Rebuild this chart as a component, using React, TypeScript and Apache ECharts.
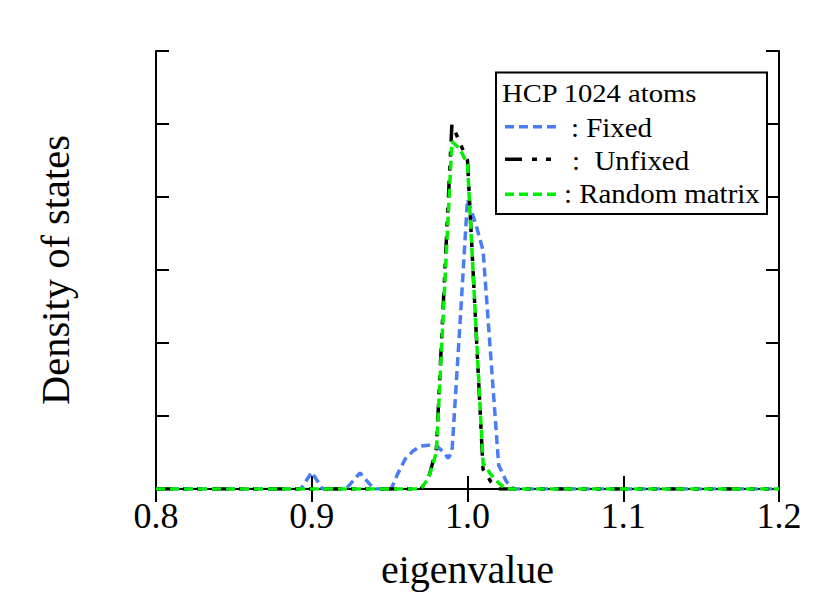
import React, { useEffect, useRef } from "react";
import * as echarts from "echarts";

// Data
const fixedX = [0.8, 0.893, 0.9, 0.907, 0.922, 0.931, 0.94, 0.951, 0.955, 0.96, 0.965, 0.97, 0.975, 0.98, 0.985, 0.9875, 0.99, 0.995, 1.0, 1.005, 1.01, 1.015, 1.02, 1.025, 1.03, 1.2];
const fixedY = [0, 0, 0.23, 0, 0, 0.22, 0, 0, 0.2, 0.41, 0.52, 0.59, 0.6, 0.59, 0.5, 0.42, 0.5, 2.2, 3.97, 3.65, 3.27, 1.8, 0.33, 0.1, 0, 0];

const unfixedX = [0.8, 0.97, 0.975, 0.98, 0.99, 0.995, 1.0, 1.01, 1.015, 1.02, 1.2];
const unfixedY = [0, 0, 0.15, 0.55, 5.0, 4.75, 4.5, 0.27, 0.1, 0, 0];

const randomX = [0.8, 0.97, 0.975, 0.98, 0.99, 0.995, 1.0, 1.01, 1.015, 1.02, 1.025, 1.2];
const randomY = [0, 0, 0.15, 0.5, 4.76, 4.66, 4.45, 0.35, 0.2, 0.08, 0, 0];

const xTicks = [0.8, 0.9, 1.0, 1.1, 1.2];
const legendTitle = "HCP 1024 atoms";
const seriesNames = [": Fixed", ":  Unfixed", ": Random matrix"];

const FONT = "'Liberation Serif', 'Times New Roman', serif";
const BLUE = "#4a7cf5";
const GREEN = "#00f000";

const pairs = (xs: number[], ys: number[]) => xs.map((x, i) => [x, ys[i]]);

export default function App() {
  const ref = useRef<HTMLDivElement>(null);
  useEffect(() => {
    if (!ref.current) return;
    const chart = echarts.init(ref.current, undefined, { renderer: "svg" });
    const axisLine = { lineStyle: { color: "#000", width: 2 } };
    const tick = { inside: true, length: 13, lineStyle: { color: "#000", width: 2 } };
    chart.setOption({
      animation: false,
      backgroundColor: "#fff",
      grid: {
        left: 156,
        right: 51,
        top: 51,
        bottom: 103,
        containLabel: false,
        outerBoundsMode: "none",
      },
      xAxis: [
        {
          type: "value",
          min: xTicks[0],
          max: xTicks[xTicks.length - 1],
          interval: 0.1,
          position: "bottom",
          axisLine,
          axisTick: tick,
          splitLine: { show: false },
          axisLabel: {
            formatter: (v: number) => v.toFixed(1),
            fontSize: 36,
            color: "#000",
            fontFamily: FONT,
            margin: 9,
          },
          name: "eigenvalue",
          nameLocation: "middle",
          nameGap: 60,
          nameTextStyle: { fontSize: 40, color: "#000", fontFamily: FONT },
        },
        {
          type: "value",
          min: xTicks[0],
          max: xTicks[xTicks.length - 1],
          interval: 0.1,
          position: "top",
          axisLine,
          axisTick: tick,
          splitLine: { show: false },
          axisLabel: { show: false },
        },
      ],
      yAxis: [
        {
          type: "value",
          min: 0,
          max: 6,
          interval: 1,
          position: "left",
          axisLine: { show: true, ...axisLine },
          axisTick: { show: true, ...tick },
          splitLine: { show: false },
          axisLabel: { show: false },
          name: "Density of states",
          nameLocation: "middle",
          nameGap: 80,
          nameTextStyle: { fontSize: 40.5, color: "#000", fontFamily: FONT },
        },
        {
          type: "value",
          min: 0,
          max: 6,
          interval: 1,
          position: "right",
          axisLine: { show: true, ...axisLine },
          axisTick: { show: true, ...tick },
          splitLine: { show: false },
          axisLabel: { show: false },
        },
      ],
      series: [
        {
          name: "Fixed",
          type: "line",
          data: pairs(fixedX, fixedY),
          symbol: "none",
          lineStyle: { color: BLUE, width: 3.5, type: [9, 5] },
          z: 2,
        },
        {
          name: "Unfixed",
          type: "line",
          data: pairs(unfixedX, unfixedY),
          symbol: "none",
          lineStyle: { color: "#000", width: 3.5, type: [17, 10, 5, 9, 5, 10] },
          z: 3,
        },
        {
          name: "Random matrix",
          type: "line",
          data: pairs(randomX, randomY),
          symbol: "none",
          lineStyle: { color: GREEN, width: 3.5, type: [9, 5] },
          z: 4,
        },
      ],
      graphic: [
        {
          type: "group",
          z: 100,
          children: [
            {
              type: "rect",
              shape: { x: 496, y: 72.5, width: 271, height: 141.5 },
              style: { fill: "#fff", stroke: "#000", lineWidth: 2 },
            },
            {
              type: "text",
              x: 502,
              y: 93.5,
              scaleX: 1.1,
              style: { text: legendTitle, fontSize: 26, fontFamily: FONT, fill: "#000", verticalAlign: "middle" },
            },
            {
              type: "line",
              shape: { x1: 505, y1: 126.7, x2: 557, y2: 126.7 },
              style: { stroke: BLUE, lineWidth: 3.5, lineDash: [9, 5] },
            },
            {
              type: "line",
              shape: { x1: 505, y1: 159.3, x2: 557, y2: 159.3 },
              style: { stroke: "#000", lineWidth: 3.5, lineDash: [17, 10, 5, 9, 5, 10] },
            },
            {
              type: "line",
              shape: { x1: 505, y1: 194.3, x2: 557, y2: 194.3 },
              style: { stroke: GREEN, lineWidth: 3.5, lineDash: [9, 5] },
            },
            {
              type: "text",
              x: 571,
              y: 127.5,
              scaleX: 1.07,
              style: { text: seriesNames[0], fontSize: 27, fontFamily: FONT, fill: "#000", verticalAlign: "middle" },
            },
            {
              type: "text",
              x: 572,
              y: 161,
              scaleX: 1.07,
              style: { text: seriesNames[1], fontSize: 27, fontFamily: FONT, fill: "#000", verticalAlign: "middle" },
            },
            {
              type: "text",
              x: 564,
              y: 194,
              scaleX: 1.07,
              style: { text: seriesNames[2], fontSize: 27, fontFamily: FONT, fill: "#000", verticalAlign: "middle" },
            },
          ],
        },
      ],
    });
    return () => chart.dispose();
  }, []);
  return (
    <div
      ref={ref}
      style={{ position: "absolute", left: 0, top: 0, width: 830, height: 592, background: "#fff" }}
    />
  );
}
